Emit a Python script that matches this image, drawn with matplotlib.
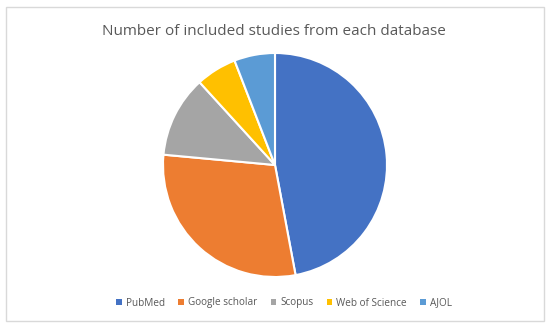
import matplotlib
matplotlib.use("Agg")
import matplotlib.pyplot as plt
from matplotlib.patches import Rectangle, Patch

categories = ["PubMed", "Google scholar", "Scopus", "Web of Science", "AJOL"]
values = [8, 5, 2, 1, 1]
colors = ["#4472C4", "#ED7D31", "#A5A5A5", "#FFC000", "#5B9BD5"]
title = "Number of included studies from each database"

W, H = 550, 329
fig = plt.figure(figsize=(W / 100, H / 100), dpi=100)
fig.patch.set_facecolor("white")

# outer chart border
fig.patches.append(Rectangle((6 / W, 8 / H), 538 / W, 314 / H, transform=fig.transFigure,
                             fill=False, edgecolor="#D9D9D9", linewidth=1.0))

r = 112
cx, cy = 275, 165
ax = fig.add_axes([(cx - r) / W, (H - cy - r) / H, 2 * r / W, 2 * r / H])
ax.pie(values, colors=colors, startangle=90, counterclock=False, radius=1,
       wedgeprops=dict(edgecolor="white", linewidth=1.5))
ax.set_xlim(-1, 1)
ax.set_ylim(-1, 1)
ax.set_aspect("equal")
ax.axis("off")

fig.text(274 / W, 1 - 35 / H, title, ha="center", va="baseline", fontsize=11,
         color="#595959", family="Open Sans")

handles = [Patch(facecolor=c, edgecolor="none") for c in colors]
fig.legend(handles, categories, loc="center", bbox_to_anchor=(284 / W, 1 - 303 / H),
           ncol=5, frameon=False, prop=dict(family="Open Sans", size=7.2),
           labelcolor="#595959", handlelength=0.55, handleheight=0.55,
           handletextpad=0.4, columnspacing=1.35)

fig.savefig("out.png", dpi=100)
